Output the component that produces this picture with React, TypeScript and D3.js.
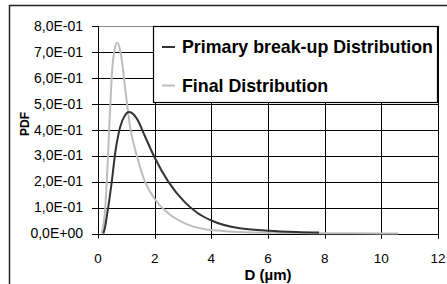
import React from "react";
import * as d3 from "d3";

// primary break-up distribution
const primaryD = [0.19, 0.25, 0.31, 0.4, 0.48, 0.62, 0.78, 0.95, 1.09, 1.25, 1.37, 1.66, 1.99, 2.48, 3.07, 3.5, 4.0, 5.0, 6.0, 7.0, 7.8];
const primaryPdf = [0, 0.025, 0.066, 0.13, 0.195, 0.32, 0.41, 0.455, 0.468, 0.46, 0.443, 0.374, 0.295, 0.2, 0.12, 0.08, 0.05, 0.02, 0.011, 0.006, 0.004];

// final distribution
const finalD = [0.13, 0.2, 0.25, 0.34, 0.42, 0.5, 0.58, 0.68, 0.76, 0.84, 0.98, 1.13, 1.37, 1.66, 1.99, 2.48, 3.07, 3.78, 4.5, 5.0, 6.0, 7.0, 8.0, 9.0, 10.6];
const finalPdf = [0, 0.04, 0.09, 0.27, 0.46, 0.63, 0.705, 0.735, 0.715, 0.668, 0.54, 0.413, 0.3, 0.2, 0.135, 0.078, 0.039, 0.016, 0.009, 0.006, 0.003, 0.002, 0.001, 0.0005, 0];

const xTicks = [0, 2, 4, 6, 8, 10, 12];
const yTicks = [0, 0.1, 0.2, 0.3, 0.4, 0.5, 0.6, 0.7, 0.8];
const yTickLabels = ["0,0E+00", "1,0E-01", "2,0E-01", "3,0E-01", "4,0E-01", "5,0E-01", "6,0E-01", "7,0E-01", "8,0E-01"];

const seriesNames = ["Primary break-up Distribution", "Final Distribution"];
const seriesColors = ["#333333", "#bdbdbd"];

const W = 447;
const H = 284;
const font = "Liberation Sans, Arial, sans-serif";

export default function App() {
  const x = d3.scaleLinear().domain([0, 12]).range([98, 438]);
  const y = d3.scaleLinear().domain([0, 0.8]).range([233.5, 26]);

  const line = d3
    .line<[number, number]>()
    .x((d) => x(d[0]))
    .y((d) => y(d[1]))
    .curve(d3.curveMonotoneX);

  const primary = primaryD.map((d, i) => [d, primaryPdf[i]] as [number, number]);
  const final = finalD.map((d, i) => [d, finalPdf[i]] as [number, number]);

  const x0 = x(0);
  const x1 = x(12);
  const yb = y(0);
  const yt = y(0.8);

  return (
    <svg width={W} height={H} style={{ position: "absolute", left: 0, top: 0, background: "#fff" }} fontFamily={font}>
      {/* outer chart frame */}
      <rect x={9.5} y={5.5} width={460} height={300} fill="#fff" stroke="#222" strokeWidth={1.5} />

      {/* horizontal gridlines */}
      {yTicks.map((t) => (
        <line key={"h" + t} x1={x0} x2={x1} y1={Math.round(y(t)) + 0.5} y2={Math.round(y(t)) + 0.5}
          stroke={t === 0.8 ? "#888" : "#000"} strokeWidth={1} />
      ))}
      {/* vertical gridlines */}
      {xTicks.slice(1).map((t) => (
        <line key={"v" + t} x1={Math.round(x(t)) + 0.5} x2={Math.round(x(t)) + 0.5} y1={yt} y2={yb + 5} stroke="#000" strokeWidth={1} />
      ))}

      {/* y axis */}
      <line x1={x0 + 0.5} x2={x0 + 0.5} y1={yt} y2={yb} stroke="#000" />
      {yTicks.map((t, i) => (
        <g key={"yt" + t}>
          <line x1={x0 - 6} x2={x0} y1={Math.round(y(t)) + 0.5} y2={Math.round(y(t)) + 0.5} stroke="#000" />
          <text x={83} y={y(t) + 4.8} textAnchor="end" fontSize={14} fill="#000">{yTickLabels[i]}</text>
        </g>
      ))}
      {/* x tick labels */}
      {xTicks.map((t) => (
        <g key={"xt" + t}>
          <line x1={Math.round(x(t)) + 0.5} x2={Math.round(x(t)) + 0.5} y1={yb} y2={yb + 5} stroke="#000" />
          <text x={x(t)} y={263} textAnchor="middle" fontSize={13.5} fill="#000">{t}</text>
        </g>
      ))}

      {/* curves */}
      <path d={line(final) || ""} fill="none" stroke={seriesColors[1]} strokeWidth={2} />
      <path d={line(primary) || ""} fill="none" stroke={seriesColors[0]} strokeWidth={2} />

      {/* legend */}
      <rect x={153.5} y={26.5} width={284} height={76} fill="#fff" stroke="#000" strokeWidth={1.2} />
      {seriesNames.map((n, i) => (
        <g key={n}>
          <line x1={162} x2={175} y1={47 + i * 38.5} y2={47 + i * 38.5} stroke={seriesColors[i]} strokeWidth={2} />
          <text x={182} y={53 + i * 38.5} fontSize={17.8} fontWeight="bold" fill="#000">{n}</text>
        </g>
      ))}

      {/* axis titles */}
      <text x={x(6)} y={280} textAnchor="middle" fontSize={15} fontWeight="bold">D (µm)</text>
      <text transform={`translate(29,124) rotate(-90)`} textAnchor="middle" fontSize={12} fontWeight="bold">PDF</text>
    </svg>
  );
}
